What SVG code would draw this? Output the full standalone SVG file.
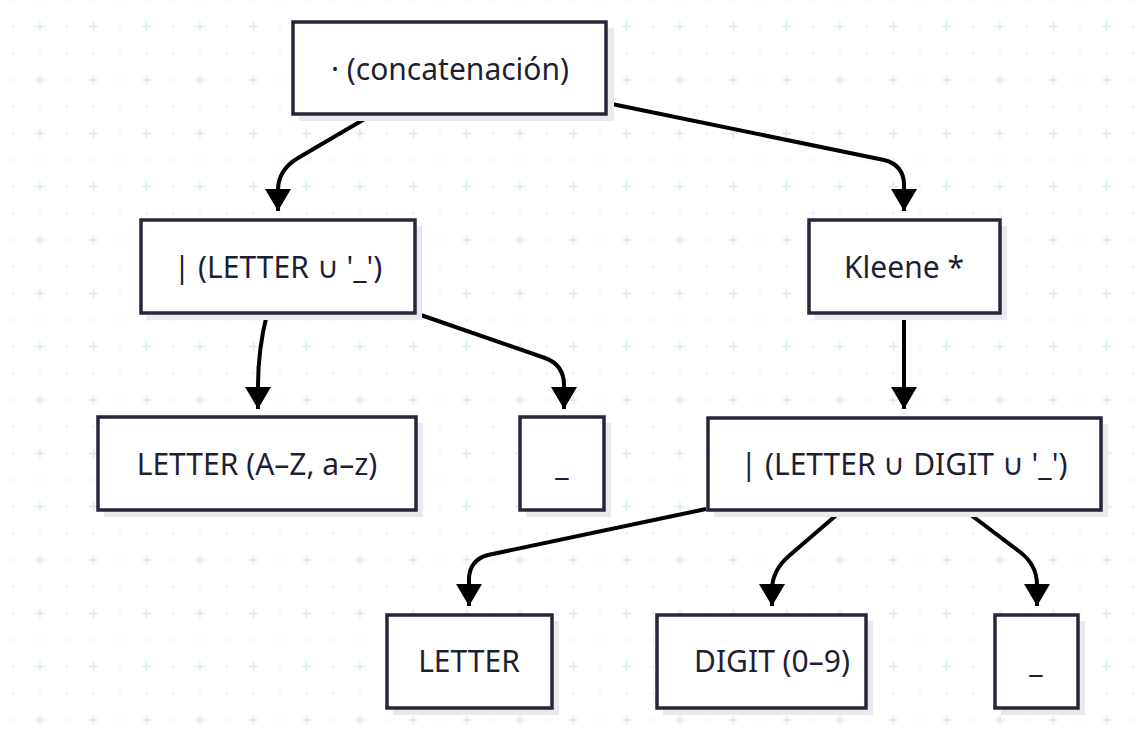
<svg xmlns="http://www.w3.org/2000/svg" width="1139" height="736" viewBox="0 0 1139 736">
<defs>
<pattern id="grid" patternUnits="userSpaceOnUse" x="0" y="-13.333" width="53.333" height="53.333">
<circle cx="13.333" cy="13.333" r="1.3" fill="#dfeef0"/>
<circle cx="40" cy="13.333" r="1.3" fill="#dfeef0"/>
<circle cx="13.333" cy="40" r="1.3" fill="#dfeef0"/>
<path d="M35.5,40 H44.5 M40,35.5 V44.5" stroke="#d3e9ec" stroke-width="1.5"/>
</pattern>
<marker id="arr" markerUnits="userSpaceOnUse" markerWidth="24" markerHeight="28" viewBox="0 0 24 28" refX="22" refY="14" orient="auto">
<path d="M0,1 L22,14 L0,27 z" fill="#000"/>
</marker>
<style>
.box{fill:#ffffff;stroke:#27263b;stroke-width:3.5}
.sh{fill:#e9e9ee}
.t{font-family:"Noto Sans","Open Sans",sans-serif;font-size:30px;fill:#1f1f33;text-anchor:middle;dominant-baseline:central}
.c{fill:none;stroke:#000;stroke-width:4;marker-end:url(#arr)}
</style>
</defs>
<rect width="1139" height="736" fill="#ffffff"/>
<rect width="1139" height="736" fill="url(#grid)"/>
<g id="connectors">
<path class="c" d="M368,117 L298,158 Q278,170 278,190 L278,211"/>
<path class="c" d="M607,103 L884,160 Q904,165 904,185 L904,211"/>
<path class="c" d="M267,314 Q258,350 258,385 L258,409"/>
<path class="c" d="M415,313 L545,358 Q564,365 564,385 L564,409"/>
<path class="c" d="M904,314 L904,409"/>
<path class="c" d="M706,509 L488,555 Q469,560 469,580 L469,606"/>
<path class="c" d="M840,512 L790,555 Q772,570 772,590 L772,606"/>
<path class="c" d="M967,512 L1020,552 Q1037,565 1037,585 L1037,606"/>
</g>
<g id="n1">
<rect class="sh" x="299" y="28" width="315" height="93"/>
<rect class="box" x="293" y="22" width="313" height="92"/>
<text class="t" x="450" y="68">· (concatenación)</text>
</g>
<g id="n2">
<rect class="sh" x="147" y="226" width="275" height="94"/>
<rect class="box" x="141" y="220" width="274" height="93"/>
<text class="t" x="278" y="266">| (LETTER ∪ '_')</text>
</g>
<g id="n3">
<rect class="sh" x="815" y="226" width="192" height="94"/>
<rect class="box" x="809" y="220" width="191" height="93"/>
<text class="t" x="904" y="266">Kleene *</text>
</g>
<g id="n4">
<rect class="sh" x="104" y="423" width="319" height="94"/>
<rect class="box" x="98" y="417" width="318" height="93"/>
<text class="t" x="257" y="463">LETTER (A–Z, a–z)</text>
</g>
<g id="n5">
<rect class="sh" x="526" y="423" width="85" height="94"/>
<rect class="box" x="520" y="417" width="84" height="93"/>
<text class="t" x="562" y="463">_</text>
</g>
<g id="n6">
<rect class="sh" x="714" y="424" width="394" height="93"/>
<rect class="box" x="708" y="418" width="393" height="92"/>
<text class="t" x="904" y="463">| (LETTER ∪ DIGIT ∪ '_')</text>
</g>
<g id="n7">
<rect class="sh" x="393" y="621" width="166" height="94"/>
<rect class="box" x="387" y="615" width="165" height="93"/>
<text class="t" x="469" y="660">LETTER</text>
</g>
<g id="n8">
<rect class="sh" x="663" y="621" width="210" height="94"/>
<rect class="box" x="657" y="615" width="209" height="93"/>
<text class="t" x="772" y="660">DIGIT (0–9)</text>
</g>
<g id="n9">
<rect class="sh" x="1001" y="621" width="84" height="94"/>
<rect class="box" x="995" y="615" width="83" height="93"/>
<text class="t" x="1036" y="660">_</text>
</g>
</svg>
